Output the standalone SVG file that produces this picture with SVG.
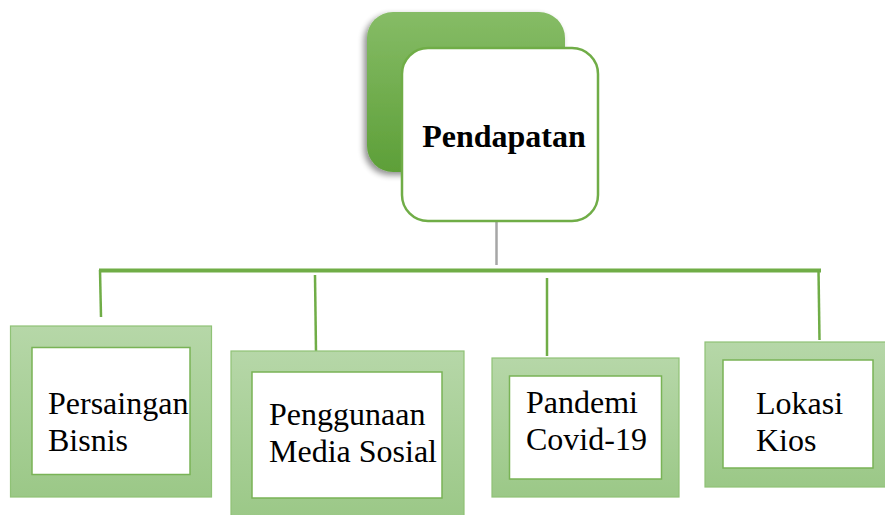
<svg xmlns="http://www.w3.org/2000/svg" width="885" height="515" viewBox="0 0 885 515">
<defs>
<linearGradient id="gTop" x1="0" y1="0" x2="0" y2="1"><stop offset="0" stop-color="#86bc66"/><stop offset="1" stop-color="#5d9f38"/></linearGradient>
<linearGradient id="gBox" x1="0" y1="0" x2="0" y2="1"><stop offset="0" stop-color="#b6d7a8"/><stop offset="1" stop-color="#9bc887"/></linearGradient>
<filter id="sh" x="-20%" y="-20%" width="140%" height="140%"><feGaussianBlur in="SourceAlpha" stdDeviation="3"/><feOffset dx="-3" dy="3"/><feComponentTransfer><feFuncA type="linear" slope="0.45"/></feComponentTransfer><feMerge><feMergeNode/><feMergeNode in="SourceGraphic"/></feMerge></filter>
<style>
.outer{fill:url(#gBox);stroke:#8fc276;stroke-width:1.2}
.inner{fill:#fff;stroke:#79b356;stroke-width:1.5}
.t{font-family:"Liberation Serif","Times New Roman",serif;font-size:32px;fill:#000}
.conn{stroke:#70ad47;stroke-width:2.5;fill:none}
</style>
</defs>
<g id="connectors">
<line x1="496.5" y1="222" x2="496.5" y2="265" stroke="#a6a6a6" stroke-width="2.5"/>
<line x1="99" y1="270.5" x2="821" y2="270.5" stroke="#70ad47" stroke-width="4"/>
<line class="conn" x1="100" y1="270" x2="101" y2="317"/>
<line class="conn" x1="315" y1="275" x2="316" y2="352"/>
<line class="conn" x1="547" y1="278" x2="547" y2="356"/>
<line class="conn" x1="818.5" y1="270" x2="819.5" y2="340"/>
</g>
<g id="root">
<rect x="367" y="12" width="198" height="160" rx="26" fill="url(#gTop)" filter="url(#sh)"/>
<rect x="402" y="48" width="196" height="173" rx="26" fill="#fff" stroke="#70ad47" stroke-width="2.5"/>
<text class="t" x="504" y="147" text-anchor="middle" font-weight="bold">Pendapatan</text>
</g>
<g id="n1">
<rect class="outer" x="10.5" y="326" width="201" height="171"/>
<rect class="inner" x="32" y="347.5" width="158" height="127"/>
<text class="t" x="48" y="414">Persaingan</text>
<text class="t" x="48" y="451">Bisnis</text>
</g>
<g id="n2">
<rect class="outer" x="231" y="351" width="233" height="168"/>
<rect class="inner" x="252" y="372" width="190" height="126"/>
<text class="t" x="269" y="425">Penggunaan</text>
<text class="t" x="269" y="462">Media Sosial</text>
</g>
<g id="n3">
<rect class="outer" x="492" y="358" width="187" height="139"/>
<rect class="inner" x="509.5" y="376" width="152" height="103"/>
<text class="t" x="526" y="413">Pandemi</text>
<text class="t" x="526" y="450">Covid-19</text>
</g>
<g id="n4">
<rect class="outer" x="705" y="342" width="184" height="145"/>
<rect class="inner" x="723" y="360" width="150" height="108"/>
<text class="t" x="756" y="414">Lokasi</text>
<text class="t" x="756" y="451">Kios</text>
</g>
</svg>
